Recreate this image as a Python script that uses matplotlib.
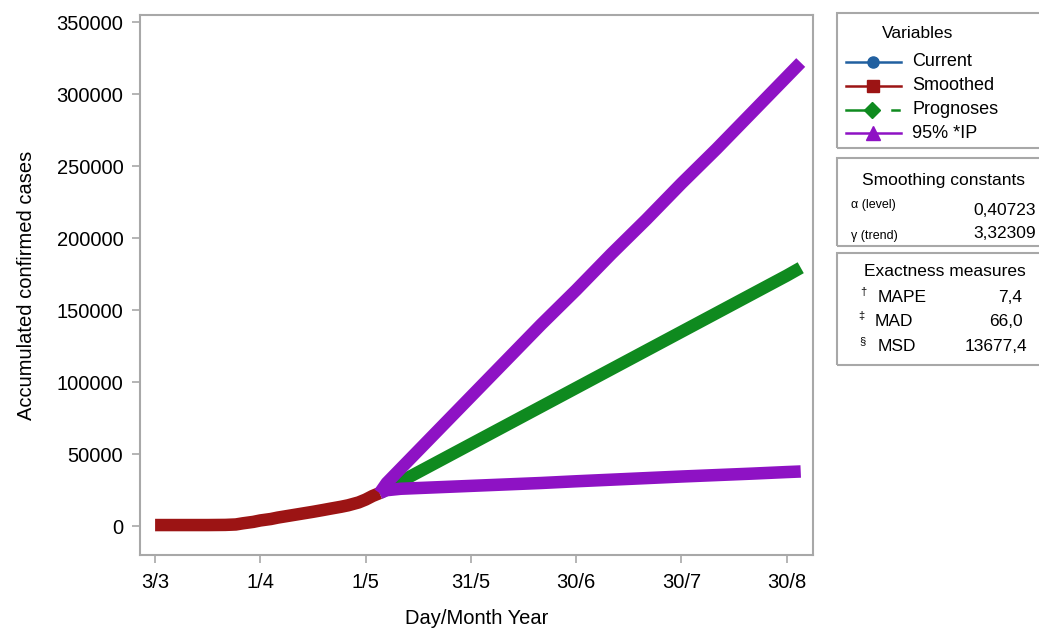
import matplotlib
matplotlib.use("Agg")
import matplotlib.pyplot as plt
from matplotlib.lines import Line2D
from matplotlib.patches import Rectangle

plt.rcParams['font.family'] = ['Liberation Sans', 'DejaVu Sans']

# ---- data (day index from 3/3) ----
smooth_days = [0, 5, 10, 15, 20, 23, 25, 28, 30, 33, 35, 38, 40, 43, 45, 48, 50, 53, 55, 58, 60, 62, 64]
smooth_vals = [800, 800, 800, 800, 900, 1200, 2000, 3000, 4000, 5000, 6000, 7200, 8000, 9200, 10000, 11300, 12200, 13500, 14500, 16500, 18500, 21000, 23000]

fc_days = [64, 66, 70, 80, 90, 100, 110, 120, 130, 140, 150, 160, 170, 180, 184]
prog_vals = [23000, 25500, 31000, 44000, 57000, 70000, 83000, 96000, 109000, 122000, 135000, 148000, 161000, 174000, 179500]
upper_vals = [23000, 30000, 40000, 65000, 90000, 115000, 140000, 164000, 189000, 213000, 238000, 262000, 287000, 312000, 322000]
lower_vals = [23000, 25000, 26000, 27000, 28000, 29000, 30000, 31200, 32300, 33400, 34500, 35500, 36500, 37600, 38000]

tick_pos = [0, 30, 60, 90, 120, 150, 180]
tick_labels = ["3/3", "1/4", "1/5", "31/5", "30/6", "30/7", "30/8"]
y_ticks = [0, 50000, 100000, 150000, 200000, 250000, 300000, 350000]

c_cur = '#2160a0'
c_smo = '#9c1414'
c_pro = '#0f8a1f'
c_ip = '#8e12c4'
gray = '#a8a8a8'

fig = plt.figure(figsize=(10.39, 6.30), dpi=100)
ax = fig.add_axes([140/1039, 75/630, 673/1039, 540/630])

lw = 9
ax.plot(fc_days, upper_vals, color=c_ip, lw=lw, solid_capstyle='butt', solid_joinstyle='round', zorder=3)
ax.plot(fc_days, lower_vals, color=c_ip, lw=lw, solid_capstyle='butt', solid_joinstyle='round', zorder=3)
ax.plot(fc_days, prog_vals, color=c_pro, lw=lw, solid_capstyle='butt', solid_joinstyle='round', zorder=2)
ax.plot(smooth_days, smooth_vals, color=c_smo, lw=lw, solid_capstyle='butt', solid_joinstyle='round', zorder=2)

ax.set_xlim(-4.3, 187.5)
ax.set_ylim(-20000, 355000)
ax.set_xticks(tick_pos)
ax.set_xticklabels(tick_labels)
ax.set_yticks(y_ticks)
ax.set_yticklabels([str(v) for v in y_ticks])
for s in ax.spines.values():
    s.set_color(gray)
    s.set_linewidth(1.5)
ax.tick_params(axis='both', colors=gray, labelcolor='black', labelsize=14.5, length=6, width=1.2)
ax.tick_params(axis='x', pad=7)
ax.tick_params(axis='y', pad=6)
ax.set_xlabel("Day/Month Year", fontsize=14.5, labelpad=12)
ax.set_ylabel("Accumulated confirmed cases", fontsize=14.5, labelpad=15)

W, H = 1039, 630
def fx(x):
    return x / W
def fy(y):
    return 1 - y / H

# legend boxes
for (y0, y1) in [(13, 148), (158, 246), (253, 365)]:
    fig.patches.append(Rectangle((fx(837), fy(y1)), fx(1060) - fx(837), fy(y0) - fy(y1),
                                 transform=fig.transFigure, fill=False, edgecolor=gray, lw=1.5))

fig.text(fx(918), fy(33), "Variables", ha='center', va='center', fontsize=12.5)
entries = [("Current", c_cur, 'o', 8, 62), ("Smoothed", c_smo, 's', 9, 86),
           ("Prognoses", c_pro, 'D', 8, 110), ("95% *IP", c_ip, '^', 10, 133)]
for name, col, mk, ms, yy in entries:
    if name == "Prognoses":
        fig.add_artist(Line2D([fx(846), fx(875)], [fy(yy), fy(yy)], color=col, lw=1.8, transform=fig.transFigure))
        fig.add_artist(Line2D([fx(892), fx(899)], [fy(yy), fy(yy)], color=col, lw=1.8, transform=fig.transFigure))
        fig.add_artist(Line2D([fx(872)], [fy(yy)], color=col, marker=mk, ms=ms, lw=0, transform=fig.transFigure))
    else:
        fig.add_artist(Line2D([fx(846), fx(901)], [fy(yy), fy(yy)], color=col, lw=1.8, transform=fig.transFigure))
        fig.add_artist(Line2D([fx(873)], [fy(yy)], color=col, marker=mk, ms=ms, lw=0, transform=fig.transFigure))
    fig.text(fx(912), fy(yy), name, ha='left', va='center', fontsize=13)

fig.text(fx(943), fy(180), "Smoothing constants", ha='center', va='center', fontsize=12.5)
fig.text(fx(851), fy(205), "α (level)", ha='left', va='center', fontsize=9)
fig.text(fx(1036), fy(211), "0,40723", ha='right', va='center', fontsize=12.5)
fig.text(fx(851), fy(236), "γ (trend)", ha='left', va='center', fontsize=9)
fig.text(fx(1036), fy(234), "3,32309", ha='right', va='center', fontsize=12.5)

fig.text(fx(945), fy(272), "Exactness measures", ha='center', va='center', fontsize=12.5)
fig.text(fx(860), fy(292), "†", ha='left', va='center', fontsize=8)
fig.text(fx(878), fy(297), "MAPE", ha='left', va='center', fontsize=12.5)
fig.text(fx(1022), fy(297), "7,4", ha='right', va='center', fontsize=12.5)
fig.text(fx(858), fy(316), "‡", ha='left', va='center', fontsize=8)
fig.text(fx(875), fy(321), "MAD", ha='left', va='center', fontsize=12.5)
fig.text(fx(1023), fy(321), "66,0", ha='right', va='center', fontsize=12.5)
fig.text(fx(859), fy(341), "§", ha='left', va='center', fontsize=8)
fig.text(fx(878), fy(346), "MSD", ha='left', va='center', fontsize=12.5)
fig.text(fx(1027), fy(346), "13677,4", ha='right', va='center', fontsize=12.5)

fig.savefig("out.png", dpi=100)
